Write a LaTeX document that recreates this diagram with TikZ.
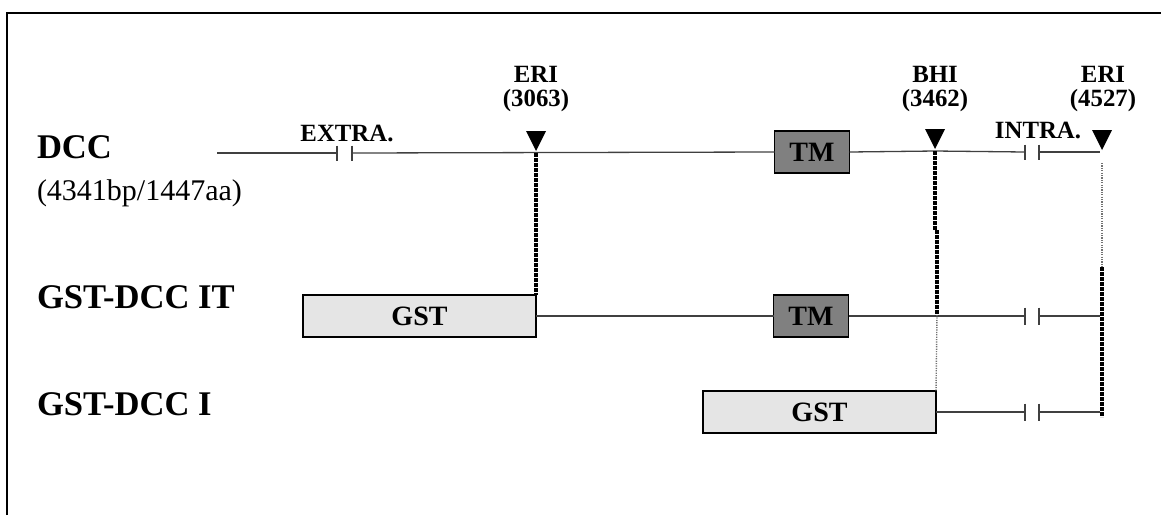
\documentclass[tikz,border=0pt]{standalone}
\usepackage{fontspec}
\setmainfont{Liberation Serif}
\begin{document}
\begin{tikzpicture}[x=0.5pt,y=-0.5pt,
  every node/.style={inner sep=0pt,outer sep=0pt},
  frame/.style={line width=1pt,black},
  rail/.style={line width=0.65pt,draw=black!75},
  tick/.style={line width=0.65pt,draw=black!75},
  boxbase/.style={draw=black,line width=0.8pt,minimum height=21pt,
    font=\fontsize{14}{16}\selectfont\bfseries},
  tmbox/.style={boxbase,fill=black!50,minimum width=37.5pt},
  gstbox/.style={boxbase,fill=black!10,minimum width=116.5pt},
  rowlbl/.style={anchor=base west,font=\fontsize{17.3}{20}\selectfont\bfseries},
  sublbl/.style={anchor=base west,font=\fontsize{15}{17}\selectfont},
  sitelbl/.style={anchor=base,font=\fontsize{12.4}{14}\selectfont\bfseries},
  cutline/.style={line width=1.7pt,black,dash pattern=on 1.8pt off 0.7pt},
  faintline/.style={line width=0.7pt,black!55,dash pattern=on 0.6pt off 0.6pt},
  site/.style={fill=black}
]
\useasboundingbox (0,0) rectangle (1161,515);

% open frame
\draw[frame] (7,515) -- (7,13) -- (1161,13);

% row labels
\node[rowlbl] (ldcc) at (37,158) {DCC};
\node[sublbl] (lsize) at (37,200) {(4341bp/1447aa)};
\node[rowlbl] (lit) at (37,308) {GST-DCC IT};
\node[rowlbl] (li) at (37,415) {GST-DCC I};

% ---- row 1: DCC ----
\coordinate (r1start) at (217,153);
\coordinate (e1a) at (337,153);
\coordinate (e1b) at (352,153);
\coordinate (cutA) at (536,153);
\node[tmbox] (tm1) at (812,152) {TM};
\coordinate (cutB) at (935,151);
\coordinate (i1a) at (1025,152);
\coordinate (i1b) at (1039,152);
\coordinate (r1end) at (1100,152);
\coordinate (cutC) at (1102,152);

\draw[rail] (r1start) -- (e1a);
\draw[rail] (e1b) -- (tm1.west);
\draw[rail] (tm1.east) -- (cutB) -- (i1a);
\draw[rail] (i1b) -- (r1end);
\foreach \c in {e1a,e1b,i1a,i1b}
  \draw[tick] (\c) ++(0,-7.5) -- ++(0,15);

\node[sitelbl] (extra) at (347,141) {EXTRA.};
\node[sitelbl] (intra) at (1038,138) {INTRA.};

% restriction sites
\foreach \c in {cutA,cutB,cutC}
  \fill[site] (\c) ++(0,-2) -- ++(-10,-20) -- ++(20,0) -- cycle;
\node[sitelbl] (eriA) at (536,82) {ERI};
\node[sitelbl] (eriApos) at (536,106) {(3063)};
\node[sitelbl] (bhi) at (935,82) {BHI};
\node[sitelbl] (bhipos) at (935,106) {(3462)};
\node[sitelbl] (eriC) at (1103,82) {ERI};
\node[sitelbl] (eriCpos) at (1103,106) {(4527)};

% ---- row 2: GST-DCC IT ----
\node[gstbox] (gst2) at (419.5,316) {GST};
\node[tmbox] (tm2) at (811,316) {TM};
\coordinate (i2a) at (1025,316);
\coordinate (i2b) at (1039,316);
\coordinate (r2end) at (1100,316);
\draw[rail] (gst2.east) -- (tm2.west);
\draw[rail] (tm2.east) -- (i2a);
\draw[rail] (i2b) -- (r2end);
\foreach \c in {i2a,i2b}
  \draw[tick] (\c) ++(0,-8.5) -- ++(0,17);

% ---- row 3: GST-DCC I ----
\node[gstbox] (gst3) at (819.5,412) {GST};
\coordinate (i3a) at (1025,412);
\coordinate (i3b) at (1039,412);
\coordinate (r3end) at (1100,412);
\draw[rail] (gst3.east) -- (i3a);
\draw[rail] (i3b) -- (r3end);
\foreach \c in {i3a,i3b}
  \draw[tick] (\c) ++(0,-8.5) -- ++(0,17);

% cut-site projections
\draw[cutline] (cutA) -- (cutA |- gst2.north);
\coordinate (bhiJogTop) at (935,230);
\coordinate (bhiJogBot) at (937,230);
\coordinate (bhiRow2) at (937,315);
\draw[cutline] (cutB) -- (bhiJogTop);
\draw[cutline] (bhiJogBot) -- (bhiRow2);
\draw[faintline] (bhiRow2) -- (gst3.north east);
\coordinate (eriCtop) at (1102,163);
\coordinate (eriCmid) at (1102,267);
\coordinate (eriCbot) at (1102,417);
\draw[faintline] (eriCtop) -- (eriCmid);
\draw[cutline] (eriCmid) -- (eriCbot);
\end{tikzpicture}
\end{document}
